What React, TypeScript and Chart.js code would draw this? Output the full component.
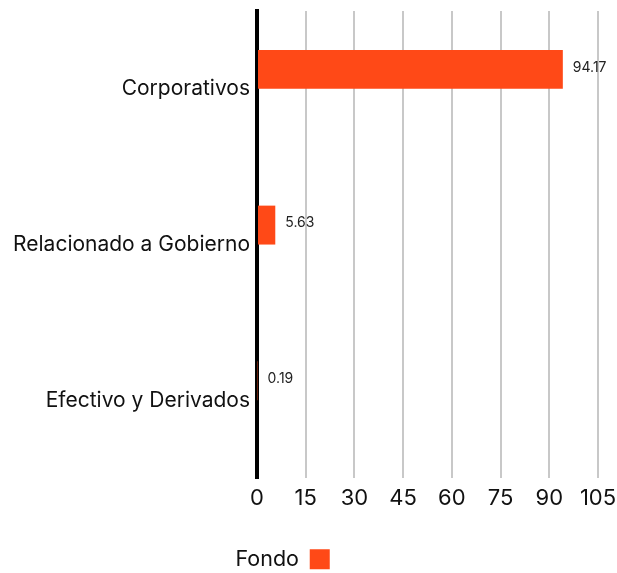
import { useEffect, useRef } from 'react';
import { Chart, registerables } from 'chart.js';

Chart.register(...registerables);

const categories = ['Corporativos', 'Relacionado a Gobierno', 'Efectivo y Derivados'];
const fondoValues = [94.17, 5.63, 0.19];
const otherValues: (number | null)[] = [null, null, null];
const xMin = 0;
const xMax = 105;
const xStep = 15;

const valueLabels = {
  id: 'valueLabels',
  afterDatasetsDraw(chart: any) {
    const { ctx } = chart;
    const meta = chart.getDatasetMeta(0);
    ctx.save();
    ctx.font = '14px Inter';
    ctx.fillStyle = '#222';
    ctx.textAlign = 'left';
    ctx.textBaseline = 'middle';
    meta.data.forEach((bar: any, i: number) => {
      const v = fondoValues[i];
      ctx.fillText(v.toFixed(2), bar.x + 10, bar.y - 2);
    });
    ctx.restore();
  },
};

export default function App() {
  const ref = useRef<HTMLCanvasElement | null>(null);
  useEffect(() => {
    if (!ref.current) return;
    Chart.defaults.font.family = 'Inter';
    const chart = new Chart(ref.current, {
      type: 'bar',
      data: {
        labels: categories,
        datasets: [
          {
            label: 'Fondo',
            data: fondoValues,
            backgroundColor: '#ff4917',
            borderWidth: 0,
            categoryPercentage: 0.5,
            barPercentage: 1,
          },
          {
            label: '',
            data: otherValues,
            backgroundColor: 'transparent',
            borderWidth: 0,
            categoryPercentage: 0.5,
            barPercentage: 1,
          },
        ],
      },
      options: {
        indexAxis: 'y',
        animation: false,
        responsive: true,
        maintainAspectRatio: false,
        layout: { padding: { top: 11, left: 8, right: 19, bottom: -7 } },
        plugins: {
          tooltip: { enabled: false },
          legend: {
            position: 'bottom',
            rtl: true,
            reverse: true,
            labels: {
              boxWidth: 20,
              boxHeight: 20,
              padding: 10,
              color: '#111',
              font: { size: 21.5, family: 'Inter' },
            },
          },
        },
        scales: {
          x: {
            min: xMin,
            max: xMax,
            afterFit(scale: any) {
              scale.height += 20;
              scale.paddingRight = 0;
              scale.paddingLeft = 0;
            },
            ticks: {
              stepSize: xStep,
              padding: 7,
              color: '#111',
              font: { size: 22, family: 'Inter' },
            },
            grid: {
              color: (c: any) => (c.index === 0 ? 'transparent' : '#c8c8c8'),
              lineWidth: 2,
              drawTicks: false,
            },
            border: { display: false },
          },
          y: {
            z: 1,
            afterFit(scale: any) {
              scale.width = 249;
              scale.paddingTop = 0;
              scale.paddingBottom = 0;
            },
            ticks: {
              padding: 7,
              color: '#111',
              font: { size: 21, family: 'Inter' },
            },
            grid: { display: false, drawTicks: false },
            border: { display: true, color: '#000', width: 4 },
          },
        },
      },
      plugins: [valueLabels],
    });
    return () => chart.destroy();
  }, []);
  return (
    <div style={{ position: 'absolute', left: 0, top: 0, width: 617, height: 573 }}>
      <canvas ref={ref} />
    </div>
  );
}
